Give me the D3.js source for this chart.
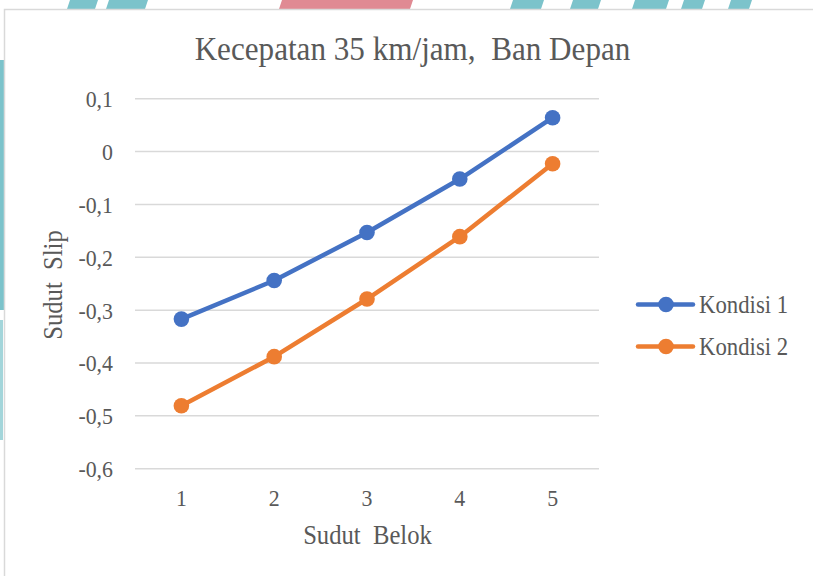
<!DOCTYPE html>
<html>
<head>
<meta charset="utf-8">
<script src="https://cdn.jsdelivr.net/npm/d3@7"></script>
<style>
  html, body { margin: 0; padding: 0; background: #ffffff; }
  svg { display: block; }
  text { font-family: "Liberation Serif", "Times New Roman", serif; fill: #595959; }
</style>
</head>
<body>
<svg id="chart" width="813" height="576"></svg>
<script>
// ---- data ----
const categories = ["1", "2", "3", "4", "5"];
const kondisi1 = [-0.317, -0.244, -0.153, -0.052, 0.064];
const kondisi2 = [-0.481, -0.388, -0.279, -0.161, -0.023];
const seriesNames = ["Kondisi 1", "Kondisi 2"];
const seriesColors = ["#4472C4", "#ED7D31"];
const yTicks = [0.1, 0, -0.1, -0.2, -0.3, -0.4, -0.5, -0.6];
const titleText = "Kecepatan 35 km/jam,  Ban Depan";
const xTitle = "Sudut  Belok";
const yTitle = "Sudut  Slip";

const SX = 0.93; // slight horizontal condensation seen in the reference text

const svg = d3.select("#chart");

// ---- background watermark fragments outside chart frame ----
const wm = svg.append("g");
const cyan = "#7cc3cb", pink = "#e08a93";
[[70,98,cyan],[109,148,cyan],[282,413,pink],[513,544,cyan],[573,601,cyan],[635,669,cyan],[684,705,cyan],[731,752,cyan]]
  .forEach(([a,b,c]) => wm.append("polygon")
    .attr("points", `${a},0 ${b},0 ${b-3},9 ${a-3},9`).attr("fill", c));
wm.append("rect").attr("x",0).attr("y",60).attr("width",4.5).attr("height",250).attr("fill",cyan);
wm.append("rect").attr("x",0).attr("y",320).attr("width",3).attr("height",120).attr("fill",cyan).attr("opacity",0.7);

// ---- chart frame ----
svg.append("rect").attr("x",4.5).attr("y",9.5).attr("width",830).attr("height",600)
  .attr("fill","#ffffff").attr("stroke","#d9d9d9").attr("stroke-width",1.5);

// ---- scales ----
const x = d3.scaleBand().domain(categories).range([135, 599]);
const y = d3.scaleLinear().domain([-0.6, 0.1]).range([468.7, 98.7]);
const fmt = v => (Math.abs(v) < 1e-9 ? "0" : d3.format(".1f")(v).replace(".", ",").replace("−","-"));

// ---- gridlines ----
svg.append("g").selectAll("line").data(yTicks).join("line")
  .attr("x1", 135).attr("x2", 599)
  .attr("y1", d => y(d)).attr("y2", d => y(d))
  .attr("stroke", "#d9d9d9").attr("stroke-width", 1.5);

// ---- y axis labels ----
const yAxis = d3.axisLeft(y).tickValues(yTicks).tickFormat(fmt).tickSize(0).tickPadding(0);
const gy = svg.append("g").attr("transform", "translate(113,0)").call(yAxis);
gy.select(".domain").remove();
gy.selectAll("text").attr("font-size", 23.5).attr("font-family", "Liberation Serif")
  .attr("fill", "#595959").attr("dy", "0.34em").attr("x", 0)
  .attr("transform", `scale(${SX},1)`);

// ---- x axis labels ----
const xAxis = d3.axisBottom(x).tickSize(0).tickPadding(0);
const gx = svg.append("g").attr("transform", "translate(0,506)").call(xAxis);
gx.select(".domain").remove();
gx.selectAll("text").attr("font-size", 23.5).attr("font-family", "Liberation Serif")
  .attr("fill", "#595959").attr("dy", 0).attr("y", 0)
  .attr("transform", `scale(${SX},1)`);

// ---- series ----
const allSeries = [kondisi1, kondisi2];
const line = d3.line().x((d, i) => x(categories[i]) + x.bandwidth() / 2).y(d => y(d));
allSeries.forEach((vals, si) => {
  const g = svg.append("g");
  g.append("path").datum(vals).attr("d", line).attr("fill", "none")
    .attr("stroke", seriesColors[si]).attr("stroke-width", 4.5).attr("stroke-linejoin", "round");
  g.selectAll("circle").data(vals).join("circle")
    .attr("cx", (d, i) => x(categories[i]) + x.bandwidth() / 2)
    .attr("cy", d => y(d)).attr("r", 7.8).attr("fill", seriesColors[si]);
});

// ---- title ----
svg.append("text").attr("transform", `translate(412.5,60) scale(${SX},1)`).attr("text-anchor", "middle")
  .attr("font-size", 33.5).style("white-space", "pre").text(titleText);

// ---- axis titles ----
svg.append("text").attr("transform", `translate(367.5,543.5) scale(${SX},1)`).attr("text-anchor", "middle")
  .attr("font-size", 26.5).style("white-space", "pre").text(xTitle);
svg.append("text").attr("transform", `translate(62,285) rotate(-90) scale(${SX},1)`).attr("text-anchor", "middle")
  .attr("font-size", 26.5).style("white-space", "pre").text(yTitle);

// ---- legend ----
const legY = [304.5, 346.5];
seriesNames.forEach((name, i) => {
  const g = svg.append("g");
  g.append("line").attr("x1", 638).attr("x2", 693).attr("y1", legY[i]).attr("y2", legY[i])
    .attr("stroke", seriesColors[i]).attr("stroke-width", 4.5).attr("stroke-linecap", "round");
  g.append("circle").attr("cx", 666).attr("cy", legY[i]).attr("r", 7.8).attr("fill", seriesColors[i]);
  g.append("text").attr("transform", `translate(699,${legY[i] + 8}) scale(${SX},1)`)
    .attr("font-size", 24.5).text(name);
});
</script>
</body>
</html>
